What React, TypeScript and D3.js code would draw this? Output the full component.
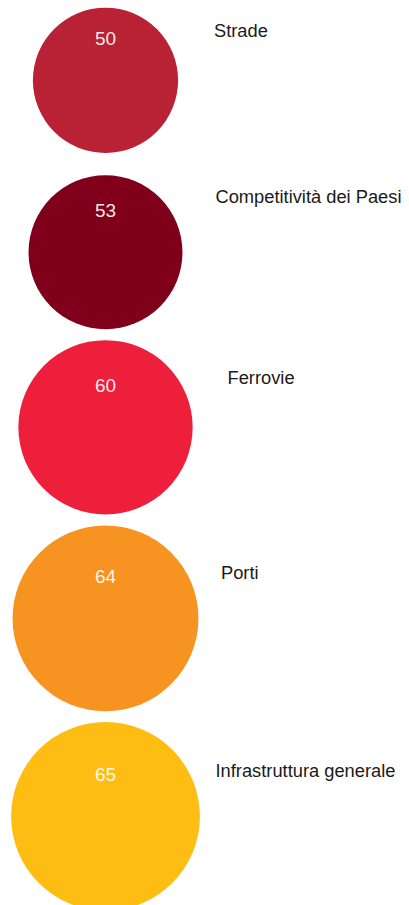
import * as d3 from 'd3';
import React from 'react';

const categories = ['Strade', 'Competitività dei Paesi', 'Ferrovie', 'Porti', 'Infrastruttura generale'];
const values = [50, 53, 60, 64, 65];
const colors = ['#b92235', '#80001c', '#ee1f3a', '#f79321', '#fdbd13'];

// layout tweaks per row (label placement relative to circle centre, gap above circle)
const labelX = [214, 215.5, 227.5, 221, 215.5];
const labelDy = [-43, -49, -43.5, -39.5, -39];
const gapAbove = [7.7, 22.3, 11, 11, 10.6];

const W = 409;
const H = 905;

export default function App() {
  const ref = React.useRef<SVGSVGElement>(null);

  React.useEffect(() => {
    if (!ref.current) return;
    const svg = d3.select(ref.current);
    svg.selectAll('*').remove();

    const r = d3.scaleLinear().domain([0, 65]).range([0, 94.4]);
    const cx = 105.5;

    // stack circles vertically
    const cys: number[] = [];
    let y = 0;
    values.forEach((v, i) => {
      y += gapAbove[i] + r(v);
      cys.push(y);
      y += r(v);
    });

    const rows = svg
      .selectAll('g.row')
      .data(values)
      .enter()
      .append('g')
      .attr('class', 'row')
      .attr('transform', (_d, i) => `translate(0,${cys[i]})`);

    rows
      .append('circle')
      .attr('cx', cx)
      .attr('cy', 0)
      .attr('r', (d) => r(d))
      .attr('fill', (_d, i) => colors[i]);

    rows
      .append('text')
      .attr('x', cx)
      .attr('y', -35)
      .attr('text-anchor', 'middle')
      .attr('font-size', 19)
      .attr('fill', '#fff')
      .attr('fill-opacity', 0.92)
      .text((d) => d);

    rows
      .append('text')
      .attr('x', (_d, i) => labelX[i])
      .attr('y', (_d, i) => labelDy[i])
      .attr('font-size', 18.3)
      .attr('fill', '#1a1a1a')
      .text((_d, i) => categories[i]);
  }, []);

  return (
    <svg
      ref={ref}
      width={W}
      height={H}
      style={{ position: 'absolute', left: 0, top: 0, fontFamily: '"Liberation Sans", Arial, sans-serif', background: '#fff' }}
    />
  );
}
